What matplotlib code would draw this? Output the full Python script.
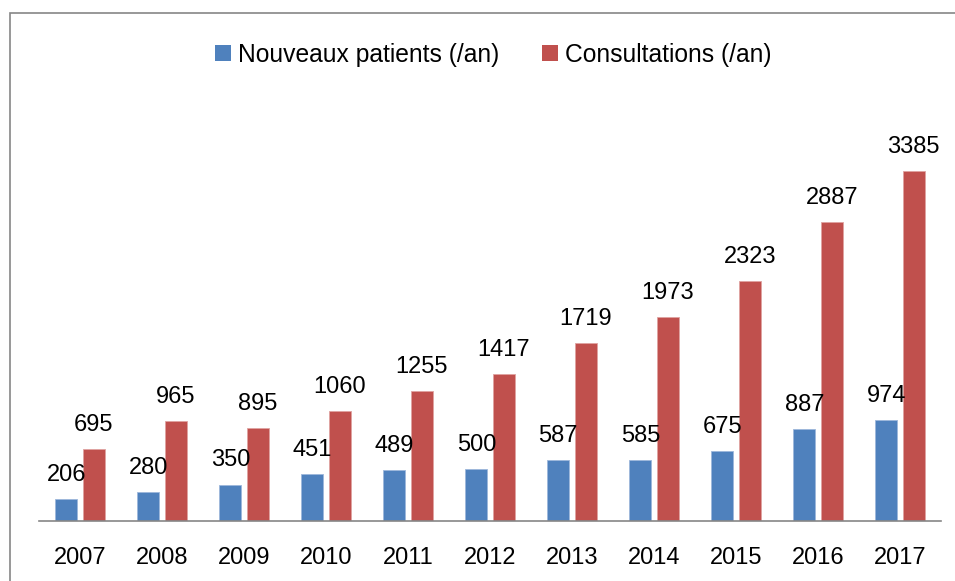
import matplotlib
matplotlib.use("Agg")
import matplotlib.pyplot as plt
from matplotlib.patches import Rectangle, Patch
import numpy as np

years = ["2007", "2008", "2009", "2010", "2011", "2012", "2013", "2014", "2015", "2016", "2017"]
nouveaux = [206, 280, 350, 451, 489, 500, 587, 585, 675, 887, 974]
consultations = [695, 965, 895, 1060, 1255, 1417, 1719, 1973, 2323, 2887, 3385]
series_names = ["Nouveaux patients (/an)", "Consultations (/an)"]

BLUE = "#4F81BD"
RED = "#C0504D"
GRAY = "#868686"
FONT = "Liberation Sans"
FS = 17

plt.rcParams["font.family"] = [FONT, "DejaVu Sans"]

W, H = 955, 581
fig = plt.figure(figsize=(W / 100, H / 100), dpi=100)

# outer chart border (left and top visible, rest off-canvas)
fig.patches.append(Rectangle((10 / W, -1), 2, 2 - 13 / H, transform=fig.transFigure,
                             fill=False, edgecolor=GRAY, lw=1.2))

ax = fig.add_axes([39 / W, (H - 520.7) / H, 902 / W, 0.6756])
x = np.arange(len(years))
bw = 0.268
off = 0.167
b1 = ax.bar(x - off, nouveaux, bw, color=BLUE, edgecolor="#9DB7DB", lw=0.6)
b2 = ax.bar(x + off, consultations, bw, color=RED, edgecolor="#DFA3A1", lw=0.6)

for bars, vals in ((b1, nouveaux), (b2, consultations)):
    for rect, v in zip(bars, vals):
        ax.annotate(str(v), (rect.get_x() + rect.get_width() / 2, rect.get_height()),
                    xytext=(0, 13), textcoords="offset points", ha="center", va="baseline",
                    fontsize=FS, color="black")

ax.set_xlim(-0.5, len(years) - 0.5)
ax.set_ylim(0, 3800)
ax.set_xticks(x)
ax.set_xticklabels(years, fontsize=FS)
ax.tick_params(axis="x", length=0, pad=19)
ax.set_yticks([])
for s in ("top", "right", "left"):
    ax.spines[s].set_visible(False)
ax.spines["bottom"].set_color(GRAY)
ax.spines["bottom"].set_linewidth(1.2)

handles = [Patch(facecolor=BLUE), Patch(facecolor=RED)]
fig.legend(handles, series_names, loc="center", bbox_to_anchor=(493.5 / W, 1 - 55 / H),
           ncol=2, frameon=False, fontsize=17.7, handlelength=0.62, handleheight=0.62,
           handletextpad=0.3, columnspacing=1.75)

fig.savefig("out.png", dpi=100)
